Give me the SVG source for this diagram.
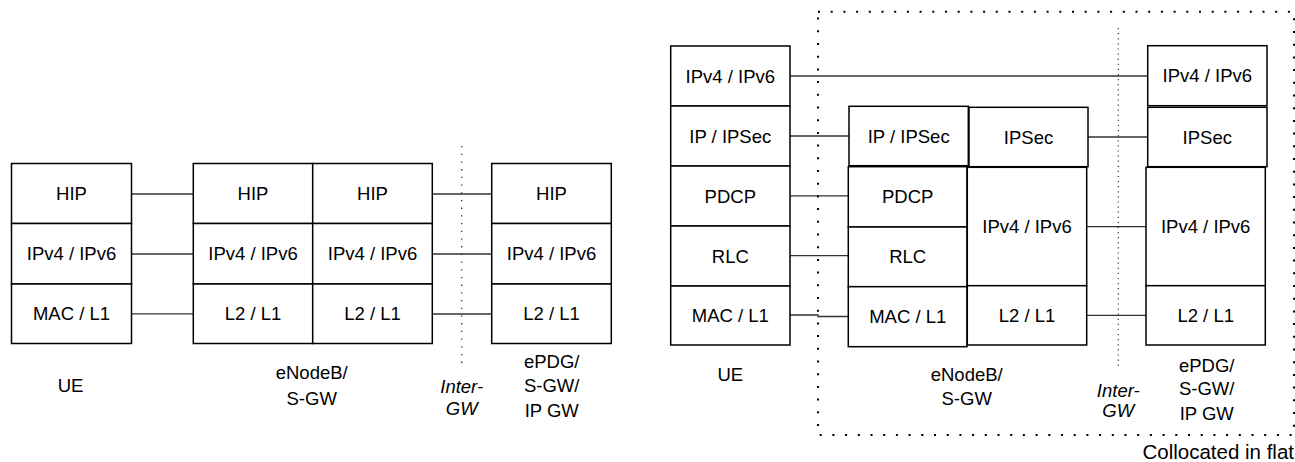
<svg xmlns="http://www.w3.org/2000/svg" width="1295" height="462" viewBox="0 0 1295 462">
<style>
.b{fill:#fff;stroke:#000;stroke-width:1.5}
.t{font-family:"Liberation Sans",Arial,sans-serif;font-size:18.5px;fill:#000;text-anchor:middle}
.i{font-style:italic}
.c{stroke:#333;stroke-width:1.3;fill:none}
.d1{stroke:#000;stroke-width:2;stroke-dasharray:2 10.7;fill:none}
.d2{stroke:#333;stroke-width:1.3;stroke-dasharray:1.3 6.4;fill:none}
.d3{stroke:#333;stroke-width:1.2;stroke-dasharray:1.2 3.9;fill:none}
</style>
<rect width="1295" height="462" fill="#fff"/>

<g id="connectors">
<!-- left diagram -->
<line class="c" x1="131.5" y1="194" x2="193.3" y2="194"/>
<line class="c" x1="131.5" y1="254" x2="193.3" y2="254"/>
<line class="c" x1="131.5" y1="313.8" x2="193.3" y2="313.8"/>
<line class="c" x1="432.3" y1="194" x2="491.7" y2="194"/>
<line class="c" x1="432.3" y1="254" x2="491.7" y2="254"/>
<line class="c" x1="432.3" y1="314" x2="491.7" y2="314"/>
<!-- right diagram -->
<line class="c" x1="790" y1="76" x2="1147.7" y2="76"/>
<line class="c" x1="790" y1="136" x2="849" y2="136"/>
<line class="c" x1="790" y1="195.8" x2="848.3" y2="195.8"/>
<line class="c" x1="790" y1="255.7" x2="848.3" y2="255.7"/>
<polyline class="c" points="790,315 818,315 818,316.5 848.3,316.5"/>
<line class="c" x1="1088" y1="137" x2="1147.7" y2="137"/>
<line class="c" x1="1086.7" y1="226.7" x2="1146" y2="226.7"/>
<line class="c" x1="1086.7" y1="315.3" x2="1146" y2="315.3"/>
</g>

<g id="boundaries">
<line class="d2" x1="461.7" y1="146" x2="461.7" y2="366"/>
<line class="d3" x1="1118.3" y1="28" x2="1118.3" y2="367"/>
<rect class="d1" x="818" y="11.7" width="476" height="423.3"/>
</g>

<!-- LEFT DIAGRAM -->
<g id="ue-left">
<rect class="b" x="11.5" y="163.5" width="120" height="60"/>
<rect class="b" x="11.5" y="223.5" width="120" height="60.5"/>
<rect class="b" x="11.5" y="284" width="120" height="59.5"/>
<text class="t" x="71.5" y="200">HIP</text>
<text class="t" x="71.5" y="260.3">IPv4 / IPv6</text>
<text class="t" x="71.5" y="320.3">MAC / L1</text>
<text class="t" x="70.5" y="391.7">UE</text>
</g>

<g id="enb-left">
<rect class="b" x="193.3" y="163.5" width="119.4" height="60"/>
<rect class="b" x="193.3" y="223.5" width="119.4" height="60.5"/>
<rect class="b" x="193.3" y="284" width="119.4" height="59.5"/>
<rect class="b" x="312.7" y="163.5" width="119.6" height="60"/>
<rect class="b" x="312.7" y="223.5" width="119.6" height="60.5"/>
<rect class="b" x="312.7" y="284" width="119.6" height="59.5"/>
<text class="t" x="253" y="200">HIP</text>
<text class="t" x="253" y="260.3">IPv4 / IPv6</text>
<text class="t" x="253" y="320.3">L2 / L1</text>
<text class="t" x="372.5" y="200">HIP</text>
<text class="t" x="372.5" y="260.3">IPv4 / IPv6</text>
<text class="t" x="372.5" y="320.3">L2 / L1</text>
<text class="t" x="311.7" y="379.3">eNodeB/</text>
<text class="t" x="311.7" y="405">S-GW</text>
</g>

<g id="intergw-left">
<text class="t i" x="461.7" y="392.7">Inter-</text>
<text class="t i" x="461.7" y="415">GW</text>
</g>

<g id="epdg-left">
<rect class="b" x="491.7" y="163.5" width="119.6" height="60"/>
<rect class="b" x="491.7" y="223.5" width="119.6" height="60.5"/>
<rect class="b" x="491.7" y="284" width="119.6" height="59.5"/>
<text class="t" x="551.5" y="200">HIP</text>
<text class="t" x="551.5" y="260.3">IPv4 / IPv6</text>
<text class="t" x="551.5" y="320.3">L2 / L1</text>
<text class="t" x="551.7" y="368.3">ePDG/</text>
<text class="t" x="551.7" y="391.7">S-GW/</text>
<text class="t" x="551.7" y="416.7">IP GW</text>
</g>

<!-- RIGHT DIAGRAM -->
<g id="ue-right">
<rect class="b" x="670.7" y="46" width="119.3" height="60"/>
<rect class="b" x="670.7" y="106" width="119.3" height="60"/>
<rect class="b" x="670.7" y="166" width="119.3" height="60"/>
<rect class="b" x="670.7" y="226" width="119.3" height="60"/>
<rect class="b" x="670.7" y="286" width="119.3" height="59"/>
<text class="t" x="730.3" y="82.5">IPv4 / IPv6</text>
<text class="t" x="730.3" y="142.5">IP / IPSec</text>
<text class="t" x="730.3" y="202.5">PDCP</text>
<text class="t" x="730.3" y="262.5">RLC</text>
<text class="t" x="730.3" y="322">MAC / L1</text>
<text class="t" x="730.3" y="381">UE</text>
</g>

<g id="enb-right">
<rect class="b" x="849" y="106.3" width="119.3" height="59.4"/>
<rect class="b" x="848.3" y="166.7" width="118.7" height="60.3"/>
<rect class="b" x="848.3" y="227" width="118.7" height="59.7"/>
<rect class="b" x="848.3" y="286.7" width="118.7" height="60"/>
<rect class="b" x="969" y="107.3" width="119" height="59.4"/>
<rect class="b" x="967.3" y="167.3" width="119.4" height="118.4"/>
<rect class="b" x="967.3" y="285.7" width="119.4" height="59.3"/>
<text class="t" x="908.7" y="142.5">IP / IPSec</text>
<text class="t" x="907.7" y="203.3">PDCP</text>
<text class="t" x="907.7" y="263.3">RLC</text>
<text class="t" x="907.7" y="323.2">MAC / L1</text>
<text class="t" x="1028.5" y="143.5">IPSec</text>
<text class="t" x="1027" y="233">IPv4 / IPv6</text>
<text class="t" x="1027" y="321.8">L2 / L1</text>
<text class="t" x="966.7" y="381">eNodeB/</text>
<text class="t" x="966.7" y="405">S-GW</text>
</g>

<g id="intergw-right">
<text class="t i" x="1118.3" y="396.7">Inter-</text>
<text class="t i" x="1118.3" y="417.3">GW</text>
</g>

<g id="epdg-right">
<rect class="b" x="1147.7" y="45.7" width="119.3" height="60"/>
<rect class="b" x="1147.7" y="107.3" width="119.3" height="59.4"/>
<rect class="b" x="1146" y="167.3" width="119.3" height="118.4"/>
<rect class="b" x="1146" y="285.7" width="119.3" height="59.3"/>
<text class="t" x="1207.3" y="82.2">IPv4 / IPv6</text>
<text class="t" x="1207.3" y="143.5">IPSec</text>
<text class="t" x="1205.7" y="233">IPv4 / IPv6</text>
<text class="t" x="1205.7" y="321.8">L2 / L1</text>
<text class="t" x="1206.7" y="371.7">ePDG/</text>
<text class="t" x="1206.7" y="395">S-GW/</text>
<text class="t" x="1206.7" y="420">IP GW</text>
</g>

<g id="collocated-label">
<text class="t" style="font-size:20.5px;text-anchor:end" x="1294" y="459">Collocated in flat</text>
</g>
</svg>
